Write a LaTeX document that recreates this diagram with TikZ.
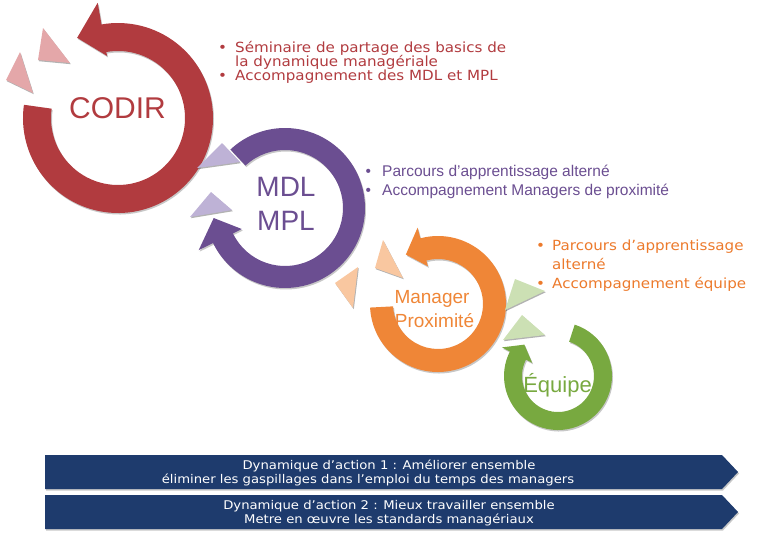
\documentclass[tikz,border=0pt]{standalone}
\usepackage{fontspec}
\setmainfont{Liberation Sans}
\newfontfamily\dvsans{DejaVu Sans}
\newfontfamily\dvwide[FakeStretch=1.08]{DejaVu Sans}
\newfontfamily\dvbanner[FakeStretch=1.1]{DejaVu Sans}
\usetikzlibrary{shadows}
\definecolor{codirred}{HTML}{B13B3F}
\definecolor{codirlight}{HTML}{E4A7A9}
\definecolor{mdlpurple}{HTML}{6B4E91}
\definecolor{mdllight}{HTML}{BEB2D6}
\definecolor{mporange}{HTML}{EF8637}
\definecolor{mptext}{HTML}{EC7A2C}
\definecolor{mplight}{HTML}{F9C7A0}
\definecolor{eqgreen}{HTML}{78A940}
\definecolor{eqlight}{HTML}{CCE0B4}
\definecolor{navyband}{HTML}{1E3B6D}
\tikzset{
  ringshadow/.style={drop shadow={shadow xshift=1pt,shadow yshift=-1.5pt,opacity=.22,fill=black}},
  trishadow/.style={drop shadow={shadow xshift=.8pt,shadow yshift=-1.2pt,opacity=.3,fill=black}},
  lbl/.style={inner sep=0pt,anchor=base},
  itemline/.style={inner sep=0pt,anchor=base west},
  bannertext/.style={inner sep=0pt,anchor=base,text=white,font=\dvbanner\fontsize{12}{13}\selectfont},
}
% #1,#2 centre; #3 outer radius; #4 inner radius; #5 start angle; #6 head base angle;
% #7 outer barb radius; #8 inner barb radius; #9 tip angle
\newcommand\cyclearrow[9]{%
  \pgfmathsetmacro\cyctip{(#7+#8)/2}%
  \fill[ringshadow] ([shift={(#1,#2)}]#5:#3pt) arc[start angle=#5,end angle=#6,radius=#3pt]
    -- ([shift={(#1,#2)}]#6:#7pt) -- ([shift={(#1,#2)}]#9:\cyctip pt)
    -- ([shift={(#1,#2)}]#6:#8pt) -- ([shift={(#1,#2)}]#6:#4pt)
    arc[start angle=#6,end angle=#5,radius=#4pt] -- cycle;}
\begin{document}
\begin{tikzpicture}[x=1pt,y=1pt]
\useasboundingbox (0,0) rectangle (768,-536);

% ---- CODIR ----
\begin{scope}[fill=codirred]
  \cyclearrow{118}{-118}{95}{67}{172}{460}{117}{63}{477}
\end{scope}
\fill[codirlight,trishadow] (20,-52) -- (6,-80) -- (33,-93) -- cycle;
\fill[codirlight,trishadow] (43,-28) -- (38,-60) -- (70,-63) -- cycle;
\node[lbl,text=codirred,font=\fontsize{30}{30}\selectfont] (codir) at (117.5,-118) {CODIR};

% ---- MDL / MPL ----
\begin{scope}[fill=mdlpurple]
  \cyclearrow{285}{-208}{80}{58}{133}{-154}{96}{48}{-172}
\end{scope}
\fill[mdllight,trishadow] (222,-143) -- (197,-168) -- (240,-162) -- cycle;
\fill[mdllight,trishadow] (211,-192) -- (190,-217) -- (232,-210) -- cycle;
\node[lbl,text=mdlpurple,font=\fontsize{28}{28}\selectfont] (mdl) at (286,-196) {MDL};
\node[lbl,text=mdlpurple,font=\fontsize{28}{28}\selectfont] (mpl) at (286,-230.7) {MPL};

% ---- Manager proximite ----
\begin{scope}[fill=mporange]
  \cyclearrow{438}{-304}{68}{45}{183}{465}{79}{39}{483}
\end{scope}
\fill[mplight,trishadow] (383,-240) -- (375,-268) -- (403,-278) -- cycle;
\fill[mplight,trishadow] (358,-267) -- (335,-283) -- (353,-308) -- cycle;
\node[lbl,text=mporange,font=\fontsize{19}{19}\selectfont] (manager) at (432,-303.3) {Manager};
\node[lbl,text=mporange,font=\fontsize{19}{19}\selectfont] (proxi) at (434.5,-327.3) {Proximité};

% ---- Equipe ----
\begin{scope}[fill=eqgreen]
  \cyclearrow{558}{-376}{54}{36}{72}{-207}{63}{29}{-223}
\end{scope}
\fill[eqlight,trishadow] (515,-279) -- (505,-310) -- (545,-291) -- cycle;
\fill[eqlight,trishadow] (522,-315) -- (503,-340) -- (545,-335) -- cycle;
\node[lbl,text=eqgreen,font=\fontsize{22}{22}\selectfont] (equipe) at (557.5,-392.7) {Équipe};

% ---- bullet texts ----
\begin{scope}[text=codirred,font=\dvwide\fontsize{14}{14}\selectfont]
  \node[itemline] (c1) at (218,-52.7) {\makebox[17pt][l]{•}Séminaire de partage des basics de};
  \node[itemline] (c2) at (235,-66.7) {la dynamique managériale};
  \node[itemline] (c3) at (218,-80.7) {\makebox[17pt][l]{•}Accompagnement des MDL et MPL};
\end{scope}
\begin{scope}[text=mdlpurple,font=\fontsize{15.5}{15.5}\selectfont]
  \node[itemline] (m1) at (365.5,-176.5) {\makebox[16.5pt][l]{•}Parcours d’apprentissage alterné};
  \node[itemline] (m2) at (365.5,-195.5) {\makebox[16.5pt][l]{•}Accompagnement Managers de proximité};
\end{scope}
\begin{scope}[text=mptext,font=\dvwide\fontsize{14}{14}\selectfont]
  \node[itemline] (o1) at (536,-250.5) {\makebox[16pt][l]{•}Parcours d’apprentissage};
  \node[itemline] (o2) at (552,-269.5) {alterné};
  \node[itemline] (o3) at (536,-288.5) {\makebox[16pt][l]{•}Accompagnement équipe};
\end{scope}

% ---- banners ----
\fill[navyband,ringshadow] (45,-455) -- (722,-455) -- (738,-472) -- (722,-489) -- (45,-489) -- cycle;
\fill[navyband,ringshadow] (45,-495) -- (722,-495) -- (738,-512) -- (722,-529) -- (45,-529) -- cycle;
\node[bannertext] (b1a) at (389,-469.5) {Dynamique d’action 1 : Améliorer ensemble};
\node[bannertext] (b1b) at (368,-483) {éliminer les gaspillages dans l’emploi du temps des managers};
\node[bannertext] (b2a) at (389,-509.5) {Dynamique d’action 2 : Mieux travailler ensemble};
\node[bannertext] (b2b) at (389,-523) {Metre en œuvre les standards managériaux};
\end{tikzpicture}
\end{document}
